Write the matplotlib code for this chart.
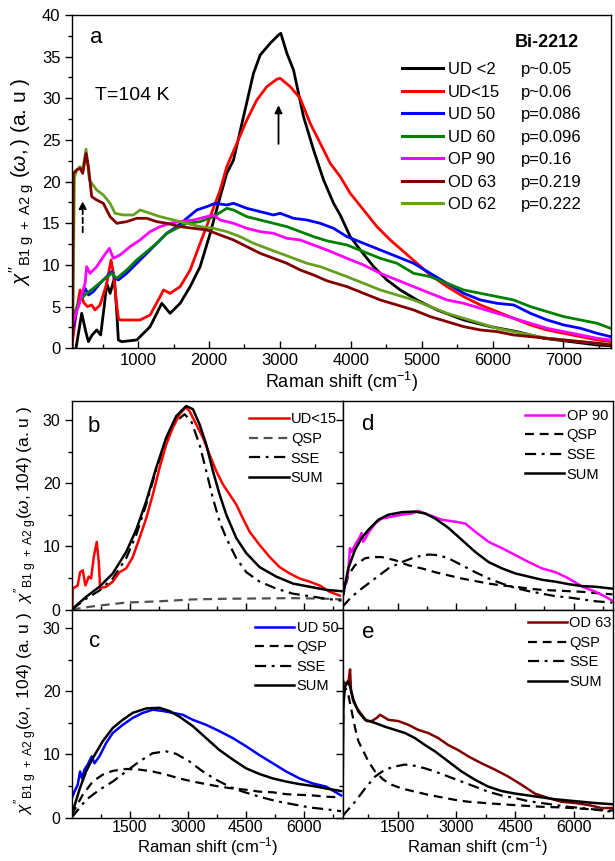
import matplotlib
matplotlib.use("Agg")
import matplotlib.pyplot as plt
from matplotlib.ticker import MultipleLocator
from matplotlib.lines import Line2D

plt.rcParams['font.family'] = ['Liberation Sans', 'DejaVu Sans']
plt.rcParams['mathtext.fontset'] = 'custom'
plt.rcParams['mathtext.rm'] = 'Liberation Sans'
plt.rcParams['mathtext.it'] = 'Liberation Sans:italic'
plt.rcParams['mathtext.bf'] = 'Liberation Sans:bold'

# ---------------- panel a : spectra at T=104 K ----------------
ud2_x = [122, 203, 260, 297, 350, 415, 470, 520, 556, 603, 664, 700, 720, 767, 980, 1168, 1333, 1450,
         1592, 1733, 1874, 2016, 2157, 2250, 2345, 2486, 2627, 2721, 2862, 2980, 3013, 3098, 3192,
         3333, 3475, 3616, 3757, 3851, 3992, 4134, 4322, 4510, 4699, 4934, 5217, 5593, 5970, 6346,
         6723, 7100, 7476, 7665]
ud2_y = [0.0, 4.2, 2.0, 0.8, 1.6, 2.2, 1.6, 5.0, 7.8, 6.6, 8.4, 4.0, 1.0, 0.8, 1.0, 2.6, 5.4, 4.2,
         5.4, 7.4, 9.8, 13.8, 18.2, 21.0, 22.6, 27.8, 33.0, 35.2, 36.6, 37.6, 37.8, 35.4, 33.4,
         27.8, 23.8, 20.2, 17.4, 16.0, 13.4, 11.8, 9.8, 8.2, 7.0, 5.8, 4.6, 3.4, 2.6, 2.0,
         1.2, 0.8, 0.4, 0.3]

ud15_x = [75, 130, 180, 230, 283, 344, 391, 462, 556, 617, 650, 700, 721, 745, 1027, 1168, 1309,
          1357, 1451, 1592, 1733, 1874, 2016, 2157, 2250, 2392, 2533, 2674, 2815, 2957, 3004, 3145,
          3286, 3427, 3569, 3710, 3851, 3992, 4181, 4369, 4557, 4746, 4934, 5122, 5358, 5593, 5829,
          6064, 6299, 6535, 6770, 7006, 7241, 7476, 7665]
ud15_y = [1.0, 4.5, 7.0, 5.5, 5.0, 5.2, 4.6, 5.2, 7.8, 10.6, 9.0, 5.0, 3.6, 3.4, 3.4, 4.0, 6.2,
          7.0, 6.6, 7.4, 9.4, 12.6, 15.8, 19.0, 21.8, 24.6, 27.4, 29.8, 31.4, 32.3, 32.4, 31.4,
          30.0, 27.0, 24.6, 22.2, 20.6, 18.6, 16.6, 14.6, 13.0, 11.6, 10.2, 8.8, 7.4, 6.2, 5.2,
          4.4, 3.6, 2.8, 2.2, 1.8, 1.4, 1.0, 0.8]

ud50_x = [75, 132, 202, 250, 300, 367, 461, 555, 626, 673, 720, 838, 979, 1121, 1262, 1403, 1544,
          1685, 1827, 1968, 2086, 2250, 2345, 2533, 2721, 2909, 3004, 3192, 3380, 3569, 3757, 3945,
          4181, 4416, 4652, 4887, 5122, 5358, 5593, 5829, 6064, 6299, 6535, 6770, 7006, 7241, 7476,
          7665]
ud50_y = [2.2, 4.6, 6.2, 7.2, 6.4, 6.8, 7.8, 8.6, 9.2, 8.4, 8.2, 9.0, 10.2, 11.4, 12.6, 13.8, 14.6,
          15.6, 16.6, 17.0, 17.4, 17.2, 17.4, 16.8, 16.4, 16.0, 16.2, 15.6, 15.4, 15.0, 14.4, 13.4,
          12.6, 11.8, 11.0, 10.2, 9.0, 7.8, 6.6, 5.8, 5.4, 5.2, 4.2, 3.4, 2.8, 2.4, 1.8, 1.4]

ud60_x = [75, 179, 273, 367, 508, 626, 697, 838, 979, 1121, 1262, 1403, 1544, 1685, 1874, 2062,
          2250, 2345, 2533, 2721, 2909, 3098, 3286, 3475, 3663, 3945, 4181, 4416, 4652, 4887, 5122,
          5358, 5593, 5829, 6064, 6299, 6535, 6770, 7006, 7241, 7476, 7665]
ud60_y = [3.8, 5.8, 6.6, 7.2, 8.2, 9.0, 8.4, 9.4, 10.6, 11.6, 12.6, 13.8, 14.4, 15.0, 15.2, 15.8,
          16.8, 16.6, 15.8, 15.4, 15.0, 14.6, 14.0, 13.4, 12.9, 12.4, 11.6, 10.8, 10.2, 9.0, 8.6,
          7.8, 7.0, 6.6, 6.2, 5.8, 5.0, 4.4, 3.8, 3.4, 3.0, 2.4]

op90_x = [75, 155, 250, 273, 320, 414, 508, 593, 650, 744, 885, 1026, 1168, 1309, 1450, 1591, 1780,
          1968, 2062, 2156, 2345, 2533, 2721, 2909, 3098, 3286, 3475, 3663, 3945, 4181, 4416, 4652,
          4887, 5122, 5358, 5593, 5829, 6064, 6299, 6535, 6770, 7006, 7241, 7476, 7665]
op90_y = [3.0, 5.0, 7.8, 9.8, 9.0, 9.8, 11.0, 12.0, 10.8, 11.2, 12.2, 13.0, 14.0, 14.6, 15.0, 15.2,
          15.4, 15.8, 16.0, 15.4, 15.0, 14.4, 14.0, 13.8, 13.2, 13.0, 12.4, 11.8, 10.8, 10.0, 9.0,
          8.2, 7.4, 6.6, 5.8, 5.4, 4.8, 4.2, 3.6, 3.0, 2.4, 2.0, 1.6, 1.2, 1.0]

od63_x = [72, 85, 132, 179, 217, 264, 297, 344, 414, 508, 603, 697, 838, 979, 1121, 1262, 1403,
          1591, 1780, 1968, 2156, 2345, 2533, 2721, 2909, 3098, 3286, 3475, 3663, 3945, 4181, 4416,
          4652, 4887, 5122, 5358, 5593, 5829, 6064, 6299, 6535, 6770, 7006, 7241, 7476, 7665]
od63_y = [0.0, 21.0, 21.4, 21.6, 21.0, 23.4, 21.8, 18.2, 17.8, 17.4, 15.8, 15.0, 15.2, 15.6, 15.6,
          15.2, 15.0, 14.6, 14.4, 14.2, 13.6, 13.0, 12.2, 11.4, 10.8, 10.2, 9.4, 8.8, 8.1, 7.4,
          6.6, 5.8, 5.2, 4.6, 3.8, 3.2, 2.6, 2.2, 2.0, 1.6, 1.4, 1.2, 1.0, 0.8, 0.6, 0.4]

od62_x = [80, 100, 132, 179, 217, 264, 311, 414, 508, 603, 673, 791, 932, 1026, 1168, 1309, 1497,
          1685, 1874, 2062, 2250, 2439, 2627, 2815, 3004, 3192, 3380, 3569, 3757, 3945, 4181, 4416,
          4652, 4887, 5122, 5358, 5593, 5829, 6064, 6299, 6535, 6770, 7006, 7241, 7476, 7665]
od62_y = [5.0, 20.5, 21.4, 21.8, 21.4, 23.9, 20.2, 19.0, 18.4, 17.4, 16.2, 16.0, 16.0, 16.6, 16.2,
          15.8, 15.4, 15.0, 14.6, 14.4, 14.0, 13.4, 12.6, 12.0, 11.4, 10.8, 10.2, 9.8, 9.2, 8.6,
          7.8, 7.0, 6.4, 5.8, 5.0, 4.2, 3.6, 3.0, 2.4, 2.0, 1.6, 1.2, 1.0, 0.8, 0.6, 0.5]

samples = ["UD <2", "UD<15", "UD 50", "UD 60", "OP 90", "OD 63", "OD 62"]
dopings = ["p~0.05", "p~0.06", "p=0.086", "p=0.096", "p=0.16", "p=0.219", "p=0.222"]
colors = ["#000000", "#ff0000", "#0000ff", "#008000", "#ff00ff", "#800000", "#66a01e"]
series_x = [ud2_x, ud15_x, ud50_x, ud60_x, op90_x, od63_x, od62_x]
series_y = [ud2_y, ud15_y, ud50_y, ud60_y, op90_y, od63_y, od62_y]

# arrows (x, y_start, y_end)
arrow_solid = (2980, 24.2, 29.5)
arrow_dashed = (217, 13.6, 18.0)

# ---------------- panel b : UD<15 ----------------
b_data_x = [15, 26, 155, 216, 285, 354, 440, 500, 570, 647, 700, 734, 889, 1062, 1234, 1407, 1579,
            1752, 1924, 2097, 2270, 2442, 2615, 2788, 2943, 3046, 3219, 3392, 3564, 3737, 3909,
            4082, 4255, 4427, 4600, 4859, 5118, 5376, 5635, 5894, 6153, 6412, 6671, 6930]
b_data_y = [0.3, 3.3, 3.8, 5.9, 6.2, 3.8, 5.2, 4.9, 8.3, 10.7, 7.5, 3.4, 3.6, 4.4, 5.9, 6.5, 8.3,
            11.3, 14.4, 18.2, 22.4, 26.1, 28.8, 30.9, 32.0, 31.4, 29.3, 27.2, 24.5, 21.9, 19.8,
            18.2, 16.6, 14.4, 12.3, 10.2, 8.3, 6.7, 5.7, 4.9, 4.4, 3.8, 2.8, 2.2]
b_sum_x = [0, 371, 716, 1062, 1407, 1666, 1924, 2183, 2442, 2701, 2960, 3133, 3305, 3478, 3650,
           3823, 3996, 4255, 4514, 4859, 5290, 5722, 6153, 6585, 6973]
b_sum_y = [0.0, 2.0, 3.6, 5.7, 9.1, 12.6, 17.1, 22.4, 27.2, 30.6, 32.2, 31.7, 29.3, 26.1, 21.9,
           18.2, 15.0, 11.3, 8.9, 6.7, 5.2, 4.1, 3.6, 3.1, 2.9]
b_sse_x = [0, 371, 716, 1062, 1407, 1666, 1924, 2183, 2442, 2701, 2917, 3090, 3305, 3478, 3650,
           3823, 3996, 4255, 4514, 4859, 5290, 5722, 6153, 6585, 6973]
b_sse_y = [0.0, 1.7, 3.0, 4.9, 8.1, 11.8, 16.6, 22.1, 26.9, 29.8, 30.9, 29.8, 26.1, 21.9, 17.6,
           13.9, 11.3, 8.1, 5.9, 4.4, 3.3, 2.5, 2.1, 1.7, 1.4]
b_qsp_x = [0, 544, 1407, 2270, 3133, 3996, 4859, 5722, 6585, 6973]
b_qsp_y = [0.0, 0.5, 1.1, 1.3, 1.6, 1.7, 1.75, 1.8, 1.7, 1.6]

# ---------------- panel d : OP 90 ----------------
d_data_x = [83, 151, 237, 280, 322, 407, 535, 578, 621, 749, 920, 1091, 1347, 1604, 1860, 2031,
            2287, 2628, 2970, 3226, 3483, 3824, 4166, 4508, 4849, 5191, 5533, 5874, 6216, 6558,
            6814, 6985]
d_data_y = [2.0, 3.8, 5.9, 9.7, 9.1, 10.2, 11.5, 12.1, 10.7, 12.1, 13.6, 14.4, 14.7, 15.0, 15.2,
            15.6, 15.0, 14.2, 13.9, 13.6, 12.3, 10.7, 9.7, 8.6, 7.5, 6.5, 5.9, 4.9, 3.6, 2.8,
            2.0, 1.4]
d_sum_x = [83, 237, 407, 578, 749, 1005, 1261, 1604, 1945, 2201, 2457, 2799, 3141, 3483, 3824,
           4166, 4508, 4849, 5191, 5533, 5874, 6216, 6558, 6985]
d_sum_y = [1.7, 6.5, 9.4, 11.3, 12.6, 14.2, 15.0, 15.4, 15.5, 15.2, 14.4, 12.9, 11.0, 9.1, 7.5,
           6.5, 5.7, 5.2, 4.7, 4.4, 4.0, 3.7, 3.6, 3.3]
d_qsp_x = [83, 237, 407, 663, 837, 1091, 1433, 1774, 2116, 2457, 2799, 3141, 3483, 3824, 4166,
           4508, 4849, 5191, 5533, 5874, 6216, 6558, 6985]
d_qsp_y = [1.7, 5.4, 7.0, 8.1, 8.3, 8.3, 7.8, 7.0, 6.5, 5.9, 5.4, 4.9, 4.5, 4.1, 3.8,
           3.6, 3.3, 3.1, 3.0, 2.9, 2.8, 2.6, 2.4]
d_sse_x = [83, 322, 578, 920, 1261, 1604, 1945, 2287, 2543, 2799, 3141, 3483, 3824, 4166, 4508,
           4849, 5191, 5533, 5874, 6216, 6558, 6985]
d_sse_y = [0.4, 2.0, 3.3, 4.9, 6.5, 7.5, 8.3, 8.7, 8.6, 8.1, 7.0, 5.9, 4.9, 4.1, 3.4,
           2.9, 2.5, 2.1, 1.9, 1.6, 1.3, 1.1]

# ---------------- panel c : UD 50 ----------------
c_data_x = [9, 69, 155, 216, 267, 328, 414, 517, 586, 716, 888, 1060, 1319, 1577, 1836, 2095,
            2353, 2612, 2870, 3129, 3474, 3819, 4163, 4508, 4853, 5198, 5543, 5887, 6232, 6577,
            6965]
c_data_y = [3.1, 4.1, 5.2, 7.3, 6.2, 7.6, 8.4, 9.7, 8.6, 9.7, 11.8, 13.4, 14.7, 15.8, 16.6, 17.1,
            16.9, 16.6, 16.3, 15.5, 14.7, 13.7, 12.6, 11.3, 9.9, 8.6, 7.3, 6.2, 5.4, 4.9, 3.5]
c_sum_x = [0, 198, 371, 543, 802, 1060, 1319, 1577, 1922, 2267, 2526, 2784, 3129, 3474, 3819,
           4163, 4508, 4853, 5198, 5543, 5887, 6232, 6577, 6965]
c_sum_y = [0.4, 4.4, 7.3, 9.4, 12.1, 14.2, 15.5, 16.6, 17.3, 17.4, 16.9, 16.0, 14.5, 12.6, 10.7,
           9.2, 7.8, 6.9, 6.2, 5.7, 5.3, 5.0, 4.6, 4.2]
c_qsp_x = [0, 284, 543, 802, 1060, 1405, 1750, 2095, 2439, 2784, 3129, 3474, 3819, 4163, 4508,
           4853, 5198, 5543, 5887, 6232, 6577, 6965]
c_qsp_y = [0.4, 3.6, 5.7, 6.8, 7.4, 7.7, 7.6, 7.3, 6.8, 6.2, 5.7, 5.3, 4.9, 4.6, 4.4,
           4.1, 4.0, 3.7, 3.6, 3.5, 3.3, 3.2]
c_sse_x = [0, 371, 716, 1060, 1405, 1750, 2095, 2439, 2698, 3043, 3388, 3732, 4077, 4422, 4853,
           5284, 5715, 6146, 6577, 6965]
c_sse_y = [0.0, 2.8, 4.4, 5.7, 7.3, 8.9, 10.2, 10.5, 10.1, 8.9, 7.3, 6.0, 4.9, 4.1, 3.3,
           2.6, 2.1, 1.6, 1.3, 1.0]

# ---------------- panel e : OD 63 ----------------
e_data_x = [88, 92, 113, 173, 241, 283, 309, 368, 453, 581, 709, 837, 964, 1049, 1262, 1516, 1772,
            2027, 2281, 2536, 2791, 3046, 3302, 3642, 3982, 4322, 4662, 5002, 5342, 5682, 6022,
            6362, 6702, 7000]
e_data_y = [0.0, 21.4, 21.6, 21.1, 21.4, 23.5, 20.0, 18.4, 17.4, 16.3, 15.3, 15.3, 15.8, 16.3,
            15.5, 15.3, 14.7, 13.9, 13.4, 12.6, 11.5, 10.7, 9.7, 8.6, 7.6, 6.5, 5.2, 3.8, 3.1,
            2.5, 2.3, 2.0, 1.5, 1.5]
e_sum_x = [92, 113, 156, 224, 283, 368, 496, 666, 922, 1177, 1432, 1687, 1941, 2196, 2451, 2791,
           3132, 3472, 3812, 4152, 4492, 4832, 5172, 5512, 5852, 6192, 6532, 7000]
e_sum_y = [2.0, 17.9, 20.8, 21.6, 20.8, 18.7, 16.8, 15.5, 15.0, 14.4, 13.9, 13.4, 12.6, 11.5, 10.5,
           8.9, 7.3, 6.0, 4.9, 4.2, 3.8, 3.5, 3.2, 2.9, 2.7, 2.5, 2.3, 2.1]
e_qsp_x = [92, 113, 156, 224, 326, 411, 496, 624, 751, 922, 1134, 1347, 1602, 1941, 2281, 2621,
           2961, 3302, 3727, 4152, 4662, 5172, 5682, 6192, 6702, 7000]
e_qsp_y = [8.0, 19.0, 20.6, 19.9, 16.8, 14.2, 12.1, 10.5, 8.9, 7.3, 6.0, 5.2, 4.6, 4.1, 3.6, 3.2,
           2.8, 2.5, 2.3, 2.1, 1.9, 1.7, 1.6, 1.4, 1.2, 1.1]
e_sse_x = [92, 156, 411, 666, 922, 1177, 1432, 1687, 1941, 2196, 2451, 2791, 3132, 3472, 3812,
           4152, 4492, 4832, 5172, 5512, 5852, 6362, 7000]
e_sse_y = [0.2, 0.7, 2.5, 4.6, 6.5, 7.6, 8.1, 8.4, 8.2, 7.8, 7.3, 6.5, 5.7, 4.9, 4.1,
           3.5, 3.1, 2.6, 2.3, 2.0, 1.7, 1.4, 0.9]

W, H = 615, 861
fig = plt.figure(figsize=(W / 100, H / 100), dpi=100)


def box(l, t, r, b):
    return [l / W, 1 - b / H, (r - l) / W, (b - t) / H]


def style(ax, size):
    ax.tick_params(axis="y", which="both", direction="out", width=1, labelsize=size)
    ax.tick_params(axis="x", which="both", direction="in", width=1, labelsize=size)
    ax.tick_params(which="major", length=5)
    ax.tick_params(which="minor", length=3)
    for s in ax.spines.values():
        s.set_linewidth(1.0)


DASH = (0, (4, 2.6))
DASHDOT = (0, (5, 2.5, 1.3, 2.5))

# ---- panel a ----
ax = fig.add_axes(box(72.3, 15, 610.5, 348.3))
order = [0, 1, 2, 3, 4, 6, 5]
for i in order:
    ax.plot(series_x[i], series_y[i], color=colors[i], lw=2.0)
ax.set_xlim(70, 7665)
ax.set_ylim(0, 40)
ax.xaxis.set_major_locator(MultipleLocator(1000))
ax.xaxis.set_minor_locator(MultipleLocator(500))
ax.yaxis.set_major_locator(MultipleLocator(5))
ax.yaxis.set_minor_locator(MultipleLocator(2.5))
style(ax, 12)
ax.set_xlabel("Raman shift (cm$^{-1}$)", fontsize=13, labelpad=1)
ax.set_ylabel(r"$\chi''_{\rm B1\ g\ +\ A2\ g}$ $(\omega,)$ (a. u )", fontsize=15, labelpad=4)
ax.text(0.032, 0.915, "a", transform=ax.transAxes, fontsize=16)
ax.text(0.042, 0.745, "T=104 K", transform=ax.transAxes, fontsize=14)
ax.text(0.823, 0.903, "Bi-2212", transform=ax.transAxes, fontsize=13, fontweight="bold")

handles = [Line2D([], [], color=c, lw=2.2) for c in colors]
leg1 = ax.legend(handles, samples, loc="upper left", bbox_to_anchor=(0.612, 0.858),
                 frameon=False, fontsize=12, handlelength=2.5, handletextpad=0.25,
                 labelspacing=0.45, borderpad=0, borderaxespad=0)
ax.add_artist(leg1)
blank = [Line2D([], [], color="none") for _ in dopings]
ax.legend(blank, dopings, loc="upper left", bbox_to_anchor=(0.834, 0.858),
          frameon=False, fontsize=12, handlelength=0, handletextpad=0,
          labelspacing=0.45, borderpad=0, borderaxespad=0)

ax.annotate("", xy=(arrow_solid[0], arrow_solid[2]), xytext=(arrow_solid[0], arrow_solid[1]),
            arrowprops=dict(arrowstyle="-|>", color="k", lw=1.3, mutation_scale=11))
ax.annotate("", xy=(arrow_dashed[0], arrow_dashed[2]), xytext=(arrow_dashed[0], arrow_dashed[1]),
            arrowprops=dict(arrowstyle="-|>", color="k", lw=1.3, ls=(0, (3, 2)), mutation_scale=11))

# ---- bottom panels ----
panels = [
    dict(rect=(72.3, 401, 342.5, 609.5), letter="b", lpos=(0.055, 0.853), xl=(15, 7000),
         data=(b_data_x, b_data_y), dcol="#ff0000", dlab="UD<15",
         qsp=(b_qsp_x, b_qsp_y), qcol="#505050", sse=(b_sse_x, b_sse_y), sm=(b_sum_x, b_sum_y),
         legpos=(0.655, 0.945), ylabel=r"$\chi''_{\rm B1\ g\ +\ A2\ g}$$(\omega,104)$ (a. u )",
         xlab=False, ylab=True),
    dict(rect=(342.5, 401, 613, 609.5), letter="d", lpos=(0.068, 0.861), xl=(90, 7000),
         data=(d_data_x, d_data_y), dcol="#ff00ff", dlab="OP 90",
         qsp=(d_qsp_x, d_qsp_y), qcol="k", sse=(d_sse_x, d_sse_y), sm=(d_sum_x, d_sum_y),
         legpos=(0.675, 0.962), ylabel=None, xlab=False, ylab=False),
    dict(rect=(72.3, 609.5, 342.5, 817.5), letter="c", lpos=(0.063, 0.821), xl=(15, 7000),
         data=(c_data_x, c_data_y), dcol="#0000ff", dlab="UD 50",
         qsp=(c_qsp_x, c_qsp_y), qcol="k", sse=(c_sse_x, c_sse_y), sm=(c_sum_x, c_sum_y),
         legpos=(0.676, 0.946), ylabel=r"$\chi''_{\rm B1\ g\ +\ A2\ g}$$(\omega,\ 104)$ (a. u )",
         xlab=True, ylab=True),
    dict(rect=(342.5, 609.5, 613, 817.5), letter="e", lpos=(0.071, 0.862), xl=(90, 7000),
         data=(e_data_x, e_data_y), dcol="#800000", dlab="OD 63",
         qsp=(e_qsp_x, e_qsp_y), qcol="k", sse=(e_sse_x, e_sse_y), sm=(e_sum_x, e_sum_y),
         legpos=(0.685, 0.968), ylabel=None, xlab=True, ylab=False),
]

for p in panels:
    ax = fig.add_axes(box(*p["rect"]))
    ax.plot(p["qsp"][0], p["qsp"][1], color=p["qcol"], lw=1.6, ls=DASH)
    ax.plot(p["sse"][0], p["sse"][1], color="k", lw=1.6, ls=DASHDOT)
    ax.plot(p["data"][0], p["data"][1], color=p["dcol"], lw=1.8)
    ax.plot(p["sm"][0], p["sm"][1], color="k", lw=1.8)
    ax.set_xlim(*p["xl"])
    ax.set_ylim(0, 33)
    ax.xaxis.set_major_locator(MultipleLocator(1500))
    ax.xaxis.set_minor_locator(MultipleLocator(750))
    ax.yaxis.set_major_locator(MultipleLocator(10))
    ax.yaxis.set_minor_locator(MultipleLocator(5))
    style(ax, 11.5)
    ax.tick_params(axis="x", pad=2)
    if not p["xlab"]:
        ax.tick_params(axis="x", labelbottom=False)
    else:
        ax.set_xlabel("Raman shift (cm$^{-1}$)", fontsize=12, labelpad=0)
    if not p["ylab"]:
        ax.tick_params(axis="y", labelleft=False)
    else:
        ax.set_ylabel(p["ylabel"], fontsize=12.5, labelpad=3)
    ax.text(p["lpos"][0], p["lpos"][1], p["letter"], transform=ax.transAxes, fontsize=16)
    hs = [Line2D([], [], color=p["dcol"], lw=1.8),
          Line2D([], [], color=p["qcol"], lw=1.6, ls=DASH),
          Line2D([], [], color="k", lw=1.6, ls=DASHDOT),
          Line2D([], [], color="k", lw=1.8)]
    ax.legend(hs, [p["dlab"], "QSP", "SSE", "SUM"], loc="upper left", bbox_to_anchor=p["legpos"],
              frameon=False, fontsize=10.5, handlelength=2.7, handletextpad=0.15,
              labelspacing=0.38, borderpad=0, borderaxespad=0)

fig.savefig("out.png", dpi=100)
